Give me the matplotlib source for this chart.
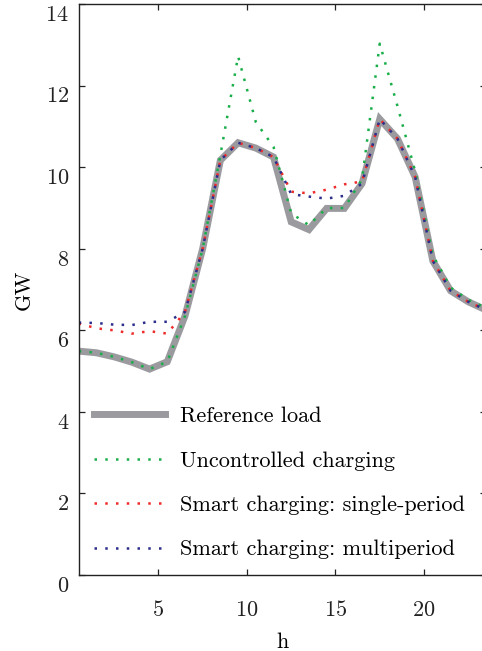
import matplotlib
matplotlib.use("Agg")
import matplotlib.pyplot as plt
import matplotlib.transforms as mtransforms

plt.rcParams["font.family"] = "serif"
plt.rcParams["font.serif"] = ["cmr10", "DejaVu Serif"]
plt.rcParams["axes.formatter.use_mathtext"] = True
plt.rcParams["mathtext.fontset"] = "cm"

# --- data (GW per hour) ---
hours = [0.5, 1.5, 2.5, 3.5, 4.5, 5.5, 6.5, 7.5, 8.5, 9.5, 10.5, 11.5,
         12.5, 13.5, 14.5, 15.5, 16.5, 17.5, 18.5, 19.5, 20.5, 21.5, 22.5, 23.5]

reference = [5.49, 5.45, 5.35, 5.22, 5.05, 5.23, 6.35, 8.0, 10.17, 10.6, 10.47, 10.25,
             8.66, 8.47, 8.99, 8.99, 9.6, 11.18, 10.7, 9.76, 7.7, 6.97, 6.7, 6.5]
uncontrolled = [5.49, 5.45, 5.35, 5.22, 5.05, 5.23, 6.35, 8.0, 10.3, 12.72, 11.11, 10.5,
                8.87, 8.58, 9.0, 9.0, 9.7, 13.03, 11.5, 9.9, 7.84, 7.05, 6.75, 6.55]
single_period = [6.17, 6.05, 6.0, 5.92, 5.98, 5.92, 6.45, 8.0, 10.17, 10.6, 10.47, 10.25,
                 9.4, 9.36, 9.45, 9.58, 9.65, 11.18, 10.7, 9.76, 7.7, 6.97, 6.7, 6.5]
multiperiod = [6.19, 6.18, 6.14, 6.13, 6.21, 6.21, 6.45, 8.0, 10.17, 10.6, 10.47, 10.25,
               9.34, 9.28, 9.23, 9.3, 9.6, 11.18, 10.7, 9.76, 7.7, 6.97, 6.7, 6.5]

labels = ["Reference load", "Uncontrolled charging",
          "Smart charging: single-period", "Smart charging: multiperiod"]
xticks = [5, 10, 15, 20]
yticks = [0, 2, 4, 6, 8, 10, 12, 14]

fig = plt.figure(figsize=(4.82, 6.51), dpi=100)
ax = fig.add_axes([0.1633, 0.1167, 0.845, 0.877])

dots = (0, (1, 3.3))
ax.plot(hours, reference, color="#9b9b9f", lw=5.0, solid_joinstyle="miter", label=labels[0])
ax.plot(hours, uncontrolled, color="#1aae4a", lw=1.8, ls=dots, label=labels[1])
ax.plot(hours, single_period, color="#ee2a2a", lw=1.8, ls=dots, label=labels[2])
ax.plot(hours, multiperiod, color="#2b2e8c", lw=1.8, ls=dots, label=labels[3])

ax.set_xlim(0.5, 23.5)
ax.set_ylim(0, 14)
ax.set_xticks(xticks)
ax.set_yticks(yticks)
ax.tick_params(direction="in", top=True, right=True, length=4.5, width=0.9,
               labelsize=16, colors="#222222")
ax.tick_params(axis="x", pad=18)
ax.tick_params(axis="y", pad=7)
for s in ax.spines.values():
    s.set_linewidth(1.0)
    s.set_color("#222222")

# y tick labels sit a little below their ticks in the original
shift = mtransforms.ScaledTranslation(0, -0.09, fig.dpi_scale_trans)
for lab in ax.get_yticklabels():
    lab.set_transform(lab.get_transform() + shift)

ax.set_xlabel("h", fontsize=16)
ax.set_ylabel("GW", fontsize=16)
ax.xaxis.set_label_coords(0.5, -0.1)
ax.yaxis.set_label_coords(-0.11, 0.5)

ax.legend(loc="lower left", frameon=False, fontsize=16, handlelength=3.2,
          handletextpad=0.68, labelspacing=1.12, borderaxespad=0.3)

fig.savefig("out.png", dpi=100)
